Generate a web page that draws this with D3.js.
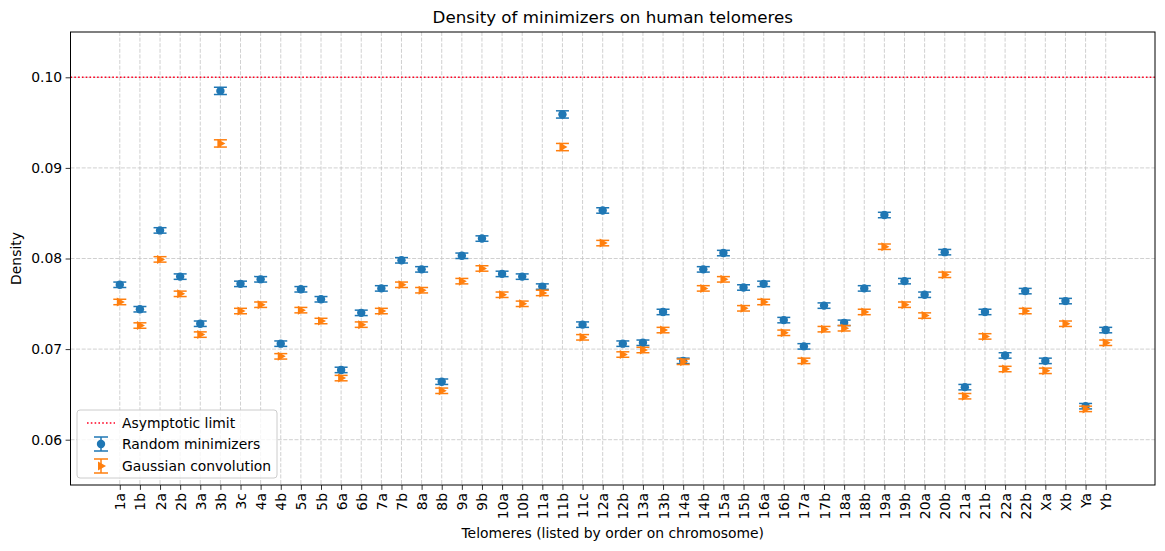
<!DOCTYPE html>
<html>
<head>
<meta charset="utf-8">
<script src="https://cdn.jsdelivr.net/npm/d3@7"></script>
<style>
  body { margin: 0; background: #fff; }
  text { font-family: "DejaVu Sans", sans-serif; }
</style>
</head>
<body>
<div id="container"></div>
<script>
/* CONSTANTS AND GLOBALS */
const telomeres = ["1a","1b","2a","2b","3a","3b","3c","4a","4b","5a","5b","6a","6b","7a","7b","8a","8b","9a","9b","10a","10b","11a","11b","11c","12a","12b","13a","13b","14a","14b","15a","15b","16a","16b","17a","17b","18a","18b","19a","19b","20a","20b","21a","21b","22a","22b","Xa","Xb","Ya","Yb"]

const randomDensity = [0.0771,0.0744,0.0831,0.0780,0.0728,0.0985,0.0772,0.0777,0.0706,0.0766,0.0755,0.0677,0.0740,0.0767,0.0798,0.0788,0.0664,0.0803,0.0822,0.0783,0.0780,0.0769,0.0959,0.0727,0.0853,0.0706,0.0707,0.0741,0.0687,0.0788,0.0806,0.0768,0.0772,0.0732,0.0703,0.0748,0.0729,0.0767,0.0848,0.0775,0.0760,0.0807,0.0658,0.0741,0.0693,0.0764,0.0687,0.0753,0.0637,0.0721]
const randomErr = [0.0003,0.0003,0.0003,0.0003,0.0003,0.0004,0.0003,0.0003,0.0003,0.0003,0.0003,0.0003,0.0003,0.0003,0.0003,0.0003,0.0003,0.0003,0.0003,0.0003,0.0003,0.0003,0.0004,0.0003,0.0003,0.0003,0.0003,0.0003,0.0003,0.0003,0.0003,0.0003,0.0003,0.0003,0.0003,0.0003,0.0003,0.0003,0.0003,0.0003,0.0003,0.0003,0.0003,0.0003,0.0003,0.0003,0.0003,0.0003,0.0003,0.0003]

const gaussDensity = [0.0752,0.0726,0.0799,0.0761,0.0716,0.0927,0.0742,0.0749,0.0692,0.0743,0.0731,0.0668,0.0727,0.0742,0.0771,0.0765,0.0654,0.0775,0.0789,0.0760,0.0750,0.0762,0.0923,0.0713,0.0817,0.0694,0.0699,0.0721,0.0686,0.0767,0.0777,0.0745,0.0752,0.0718,0.0687,0.0722,0.0723,0.0741,0.0813,0.0749,0.0737,0.0782,0.0648,0.0714,0.0678,0.0742,0.0676,0.0728,0.0634,0.0707]
const gaussErr = [0.0003,0.0003,0.0003,0.0003,0.0003,0.0004,0.0003,0.0003,0.0003,0.0003,0.0003,0.0003,0.0003,0.0003,0.0003,0.0003,0.0003,0.0003,0.0003,0.0003,0.0003,0.0003,0.0004,0.0003,0.0003,0.0003,0.0003,0.0003,0.0003,0.0003,0.0003,0.0003,0.0003,0.0003,0.0003,0.0003,0.0003,0.0003,0.0003,0.0003,0.0003,0.0003,0.0003,0.0003,0.0003,0.0003,0.0003,0.0003,0.0003,0.0003]

const asymptoticLimit = 0.1
const yTicks = [0.06, 0.07, 0.08, 0.09, 0.10]
const legendLabels = ["Asymptotic limit", "Random minimizers", "Gaussian convolution"]

const width = 1165,
  height = 551,
  margin = { top: 32, bottom: 66, left: 70.5, right: 10 },
  capHalf = 6.5;

const blue = "#1f77b4", orange = "#ff7f0e"

/* SCALES */
const pad = (telomeres.length - 1) * 0.05
const xScale = d3.scaleLinear()
  .domain([-pad, telomeres.length - 1 + pad])
  .range([margin.left, width - margin.right])

const yScale = d3.scaleLinear()
  .domain([0.055, 0.105])
  .range([height - margin.bottom, margin.top])

/* HTML ELEMENTS */
const svg = d3.select("#container")
  .append("svg")
  .attr("width", width)
  .attr("height", height)

// grid
svg.append("g")
  .selectAll("line")
  .data(telomeres)
  .join("line")
  .attr("x1", (d, i) => xScale(i))
  .attr("x2", (d, i) => xScale(i))
  .attr("y1", margin.top)
  .attr("y2", height - margin.bottom)
  .attr("stroke", "#c4c4c4")
  .attr("stroke-width", 0.8)
  .attr("stroke-dasharray", "4,1.6")

svg.append("g")
  .selectAll("line")
  .data(yTicks)
  .join("line")
  .attr("x1", margin.left)
  .attr("x2", width - margin.right)
  .attr("y1", d => yScale(d))
  .attr("y2", d => yScale(d))
  .attr("stroke", "#c4c4c4")
  .attr("stroke-width", 0.8)
  .attr("stroke-dasharray", "4,1.6")

// asymptotic limit
svg.append("line")
  .attr("x1", margin.left)
  .attr("x2", width - margin.right)
  .attr("y1", yScale(asymptoticLimit))
  .attr("y2", yScale(asymptoticLimit))
  .attr("stroke", "#ff0022")
  .attr("stroke-width", 1.6)
  .attr("stroke-dasharray", "1.6,2.2")

// error bars + markers
function drawSeries(values, errs, color, kind) {
  const g = svg.append("g")
  const rows = values.map((v, i) => ({ i, v, e: errs[i] }))
  g.selectAll(".bar")
    .data(rows)
    .join("line")
    .attr("x1", d => xScale(d.i))
    .attr("x2", d => xScale(d.i))
    .attr("y1", d => yScale(d.v - d.e))
    .attr("y2", d => yScale(d.v + d.e))
    .attr("stroke", color)
    .attr("stroke-width", 1.5)
  g.selectAll(".capLo")
    .data(rows)
    .join("line")
    .attr("x1", d => xScale(d.i) - capHalf)
    .attr("x2", d => xScale(d.i) + capHalf)
    .attr("y1", d => yScale(d.v - d.e))
    .attr("y2", d => yScale(d.v - d.e))
    .attr("stroke", color)
    .attr("stroke-width", 1.5)
  g.selectAll(".capHi")
    .data(rows)
    .join("line")
    .attr("x1", d => xScale(d.i) - capHalf)
    .attr("x2", d => xScale(d.i) + capHalf)
    .attr("y1", d => yScale(d.v + d.e))
    .attr("y2", d => yScale(d.v + d.e))
    .attr("stroke", color)
    .attr("stroke-width", 1.5)
  if (kind === "circle") {
    g.selectAll("circle")
      .data(rows)
      .join("circle")
      .attr("cx", d => xScale(d.i))
      .attr("cy", d => yScale(d.v))
      .attr("r", 4.2)
      .attr("fill", color)
  } else {
    g.selectAll("path")
      .data(rows)
      .join("path")
      .attr("d", "M-3,-4.5L5,0L-3,4.5Z")
      .attr("transform", d => `translate(${xScale(d.i)},${yScale(d.v)})`)
      .attr("fill", color)
  }
}
drawSeries(randomDensity, randomErr, blue, "circle")
drawSeries(gaussDensity, gaussErr, orange, "triangle")

// axes
const xAxis = d3.axisBottom(xScale)
  .tickValues(d3.range(telomeres.length))
  .tickFormat(i => telomeres[i])
  .tickSize(4.9)
  .tickPadding(3.5)
const xg = svg.append("g")
  .attr("transform", `translate(0,${height - margin.bottom})`)
  .call(xAxis)
xg.selectAll("text")
  .attr("transform", "rotate(-90)")
  .attr("text-anchor", "end")
  .attr("y", 0)
  .attr("x", -8)
  .attr("dy", null)
  .style("font-size", "13.9px")
  .style("dominant-baseline", "central")

const yAxis = d3.axisLeft(yScale)
  .tickValues(yTicks)
  .tickFormat(d3.format(".2f"))
  .tickSize(4.9)
  .tickPadding(3.5)
const yg = svg.append("g")
  .attr("transform", `translate(${margin.left},0)`)
  .call(yAxis)
yg.selectAll("text").style("font-size", "13.9px")

svg.selectAll(".domain").remove()
svg.selectAll(".tick line").attr("stroke", "#000").attr("stroke-width", 0.8)

// frame
svg.append("rect")
  .attr("x", margin.left)
  .attr("y", margin.top)
  .attr("width", width - margin.left - margin.right)
  .attr("height", height - margin.top - margin.bottom)
  .attr("fill", "none")
  .attr("stroke", "#000")
  .attr("stroke-width", 1)

// titles
svg.append("text")
  .attr("x", (margin.left + width - margin.right) / 2)
  .attr("y", 23)
  .attr("text-anchor", "middle")
  .style("font-size", "16.7px")
  .text("Density of minimizers on human telomeres")

svg.append("text")
  .attr("x", (margin.left + width - margin.right) / 2)
  .attr("y", 538)
  .attr("text-anchor", "middle")
  .style("font-size", "13.9px")
  .text("Telomeres (listed by order on chromosome)")

svg.append("text")
  .attr("transform", `translate(21,${(margin.top + height - margin.bottom) / 2}) rotate(-90)`)
  .attr("text-anchor", "middle")
  .style("font-size", "13.9px")
  .text("Density")

// legend
const lg = svg.append("g").attr("transform", "translate(77,410)")
lg.append("rect")
  .attr("width", 200)
  .attr("height", 68)
  .attr("rx", 3)
  .attr("fill", "#fff")
  .attr("fill-opacity", 0.8)
  .attr("stroke", "#cccccc")

lg.append("line")
  .attr("x1", 10).attr("x2", 38)
  .attr("y1", 13).attr("y2", 13)
  .attr("stroke", "#ff0022")
  .attr("stroke-width", 1.6)
  .attr("stroke-dasharray", "1.6,2.2")

const lcx = 24
;[[34, blue, "circle"], [56, orange, "triangle"]].forEach(([cy, c, kind]) => {
  lg.append("line").attr("x1", lcx).attr("x2", lcx).attr("y1", cy - 7).attr("y2", cy + 7)
    .attr("stroke", c).attr("stroke-width", 1.5)
  lg.append("line").attr("x1", lcx - 7).attr("x2", lcx + 7).attr("y1", cy - 7).attr("y2", cy - 7)
    .attr("stroke", c).attr("stroke-width", 1.5)
  lg.append("line").attr("x1", lcx - 7).attr("x2", lcx + 7).attr("y1", cy + 7).attr("y2", cy + 7)
    .attr("stroke", c).attr("stroke-width", 1.5)
  if (kind === "circle") {
    lg.append("circle").attr("cx", lcx).attr("cy", cy).attr("r", 4.2).attr("fill", c)
  } else {
    lg.append("path").attr("d", "M-3,-4.5L5,0L-3,4.5Z")
      .attr("transform", `translate(${lcx},${cy})`).attr("fill", c)
  }
})

lg.selectAll(".legend")
  .data(legendLabels)
  .join("text")
  .attr("class", "legend")
  .attr("x", 45)
  .attr("y", (_, i) => 13 + i * 21.5)
  .attr("dy", "0.35em")
  .style("font-size", "13.9px")
  .text(d => d)
</script>
</body>
</html>
